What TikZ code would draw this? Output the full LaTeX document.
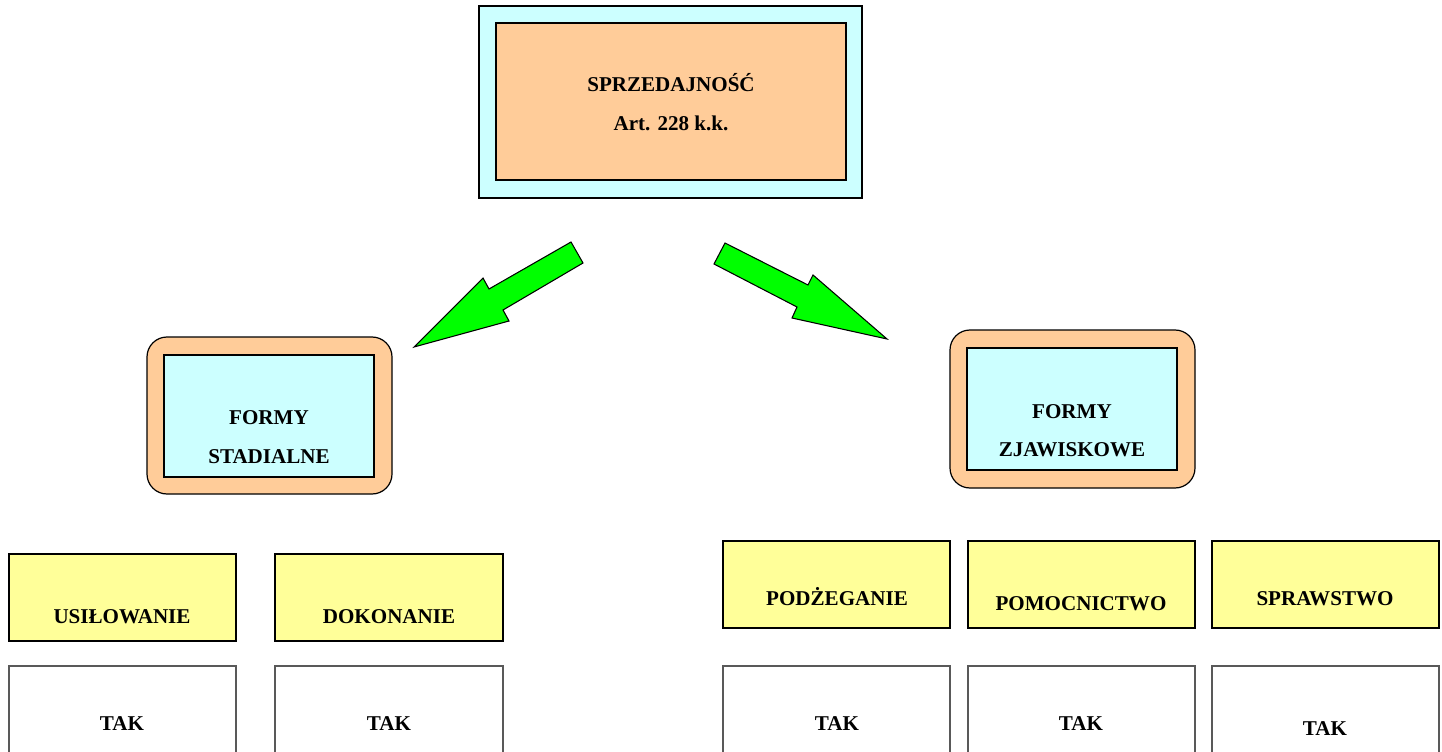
\documentclass[tikz,border=0pt]{standalone}
\usepackage{fontspec}
\setmainfont{Liberation Serif}
\usetikzlibrary{fit}
\definecolor{lcyan}{HTML}{CCFFFF}
\definecolor{lorange}{HTML}{FFCC99}
\definecolor{lyellow}{HTML}{FFFF99}
\definecolor{lgreen}{HTML}{00FF00}
\begin{document}
\begin{tikzpicture}[x=0.75pt,y=-0.75pt,
  frame/.style={draw=black, line width=0.9pt, inner sep=0pt},
  cyanbox/.style={frame, fill=lcyan},
  orangebox/.style={frame, fill=lorange},
  roundbox/.style={frame, fill=lorange, rounded corners=15pt},
  yellowbox/.style={frame, fill=lyellow},
  whitebox/.style={draw=black!65, line width=0.9pt, inner sep=0pt, fill=white},
  lbl/.style={font=\bfseries\fontsize{15.8}{19}\selectfont, inner sep=0pt, anchor=base},
  blockarrow/.style={draw=black, line width=0.8pt, fill=lgreen, line join=miter}]
\useasboundingbox (0,0) rectangle (1442,752);

% top box
\node[cyanbox, fit={(479,6) (862,198)}] (topouter) {};
\node[orangebox, fit={(496,23) (846,180)}] (topinner) {};
\node[lbl] (t1) at (671,92) {SPRZEDAJNOŚĆ};
\node[lbl] (t2) at (671,131) {Art. 228 k.k.};

% arrows
\draw[blockarrow] (571,242) -- (489,289) -- (483,278) -- (414,347) -- (509,321) -- (503,310) -- (583,263) -- cycle;
\draw[blockarrow] (725,243) -- (808,285) -- (813,275) -- (887,339) -- (792,318) -- (797,307) -- (714,264) -- cycle;

% left form box
\node[roundbox, fit={(147,337) (392,494)}] (lout) {};
\node[cyanbox, fit={(164,355) (374,477)}] (lin) {};
\node[lbl] (l1) at (269,424) {FORMY};
\node[lbl] (l2) at (269,463) {STADIALNE};

% right form box
\node[roundbox, fit={(950,330) (1195,488)}] (rout) {};
\node[cyanbox, fit={(967,348) (1177,470)}] (rin) {};
\node[lbl] (r1) at (1072,418) {FORMY};
\node[lbl] (r2) at (1072,456) {ZJAWISKOWE};

% yellow boxes
\node[yellowbox, fit={(9,554) (236,641)}] (y1) {};
\node[yellowbox, fit={(275,554) (503,641)}] (y2) {};
\node[yellowbox, fit={(723,541) (950,628)}] (y3) {};
\node[yellowbox, fit={(968,541) (1195,628)}] (y4) {};
\node[yellowbox, fit={(1212,541) (1439,628)}] (y5) {};
\node[lbl] (yt1) at (122,623) {USIŁOWANIE};
\node[lbl] (yt2) at (389,623) {DOKONANIE};
\node[lbl] (yt3) at (837,605) {PODŻEGANIE};
\node[lbl] (yt4) at (1081,610) {POMOCNICTWO};
\node[lbl] (yt5) at (1325,605) {SPRAWSTWO};

% white boxes
\node[whitebox, fit={(9,666) (236,770)}] (w1) {};
\node[whitebox, fit={(275,666) (503,770)}] (w2) {};
\node[whitebox, fit={(723,666) (950,770)}] (w3) {};
\node[whitebox, fit={(968,666) (1195,770)}] (w4) {};
\node[whitebox, fit={(1212,666) (1439,770)}] (w5) {};
\node[lbl] (wt1) at (122,730) {TAK};
\node[lbl] (wt2) at (389,730) {TAK};
\node[lbl] (wt3) at (837,730) {TAK};
\node[lbl] (wt4) at (1081,730) {TAK};
\node[lbl] (wt5) at (1325,735) {TAK};
\end{tikzpicture}
\end{document}
